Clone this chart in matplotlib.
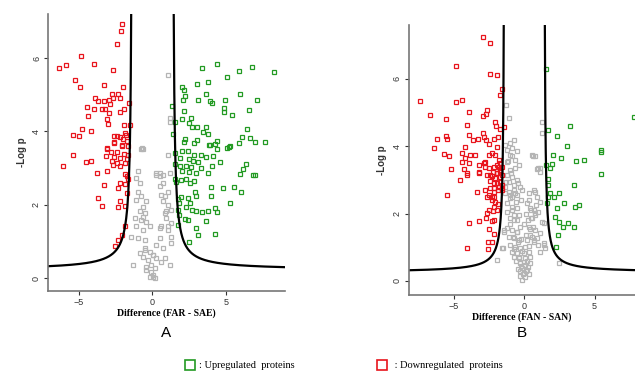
import numpy as np
import matplotlib
matplotlib.use("Agg")
import matplotlib.pyplot as plt
from matplotlib.lines import Line2D

plt.rcParams['font.family'] = ['Liberation Sans', 'DejaVu Sans']

# ---- Panel A: FAR - SAE ----
a_down_x = [-2.04, -2.16, -2.38, -4.88, -6.33, -5.87, -3.95, -2.70, -5.24, -4.90, -3.29, -1.97, -2.77, -2.31,
            -3.92, -3.72, -3.31, -2.93, -2.65, -2.20, -1.61, -4.47, -3.95, -3.45, -3.22, -2.88, -2.97, -4.40,
            -3.11, -2.20, -1.93, -2.99, -1.95, -1.56, -4.81, -4.17, -5.37, -4.97, -2.63, -2.43, -2.24, -1.88,
            -1.77, -2.02, -2.59, -1.75, -2.09, -3.11, -1.68, -2.59, -2.06, -3.11, -2.79, -2.43, -1.95, -1.68,
            -5.37, -3.15, -2.59, -2.20, -1.75, -4.51, -4.20, -2.74, -2.40, -1.90, -6.10, -2.70, -2.20, -3.11,
            -3.79, -1.90, -1.75, -1.68, -2.24, -1.86, -3.27, -2.36, -1.72, -3.67, -2.24, -3.42, -2.31, -1.90,
            -1.86, -2.06, -2.31, -2.52]
a_down_y = [6.93, 6.73, 6.38, 6.05, 5.72, 5.82, 5.85, 5.69, 5.41, 5.22, 5.26, 5.21, 5.03, 5.03,
            4.92, 4.84, 4.83, 4.86, 4.90, 4.92, 4.78, 4.68, 4.60, 4.60, 4.62, 4.74, 4.51, 4.42,
            4.33, 4.53, 4.62, 4.21, 4.19, 4.19, 4.07, 4.02, 3.91, 3.87, 3.89, 3.87, 3.84, 3.96,
            3.90, 3.80, 3.71, 3.74, 3.62, 3.55, 3.60, 3.69, 3.60, 3.53, 3.45, 3.45, 3.38, 3.37,
            3.36, 3.33, 3.31, 3.28, 3.25, 3.18, 3.19, 3.19, 3.14, 3.14, 3.06, 3.09, 3.07, 2.92,
            2.88, 2.84, 2.78, 2.70, 2.59, 2.58, 2.55, 2.46, 2.32, 2.18, 2.09, 1.97, 1.94, 1.96,
            1.41, 1.18, 1.04, 0.88]

a_up_x = [4.40, 3.38, 6.76, 5.85, 8.28, 5.06, 3.76, 3.04, 2.02, 2.16, 3.61, 5.92, 2.24, 2.09, 3.08, 3.88,
          4.06, 4.90, 7.14, 4.85, 4.85, 6.53, 1.31, 2.13, 5.42, 2.59, 1.54, 2.02, 2.45, 2.70, 3.04, 3.61,
          3.42, 3.76, 6.41, 1.38, 6.07, 6.60, 6.94, 7.64, 5.85, 2.18, 2.13, 3.04, 2.81, 4.37, 4.22, 3.83,
          5.29, 5.06, 3.88, 5.19, 4.37, 1.56, 2.02, 2.40, 2.81, 3.27, 3.61, 4.10, 1.84, 2.47, 2.74, 3.08,
          4.61, 6.33, 1.56, 1.84, 2.29, 2.63, 3.31, 4.06, 6.14, 2.02, 2.47, 2.97, 3.76, 5.92, 6.82, 7.00,
          1.56, 1.95, 2.29, 2.52, 2.81, 1.61, 3.95, 4.78, 5.53, 6.03, 2.86, 2.93, 3.99, 1.72, 1.95, 2.40,
          5.29, 1.79, 2.52, 2.29, 2.70, 2.93, 3.38, 3.76, 4.22, 4.37, 1.72, 1.79, 2.18, 2.40, 3.65, 1.72,
          2.93, 3.08, 4.22, 2.47]
a_up_y = [5.84, 5.72, 5.76, 5.64, 5.62, 5.49, 5.34, 5.29, 5.21, 5.12, 5.03, 5.01, 4.97, 4.86, 4.86, 4.83,
          4.77, 4.86, 4.86, 4.65, 4.53, 4.58, 4.69, 4.55, 4.45, 4.37, 4.27, 4.33, 4.24, 4.12, 4.12, 4.12,
          3.98, 3.94, 4.07, 3.94, 3.84, 3.81, 3.71, 3.71, 3.69, 3.80, 3.71, 3.78, 3.69, 3.74, 3.66, 3.62,
          3.60, 3.55, 3.62, 3.58, 3.53, 3.42, 3.46, 3.46, 3.37, 3.37, 3.30, 3.32, 3.28, 3.25, 3.19, 3.16,
          3.16, 3.12, 3.10, 3.05, 3.05, 3.03, 3.01, 3.05, 2.98, 2.91, 2.90, 2.87, 2.87, 2.85, 2.82, 2.82,
          2.70, 2.67, 2.70, 2.59, 2.64, 2.61, 2.48, 2.47, 2.48, 2.34, 2.36, 2.25, 2.23, 2.16, 2.21, 2.18,
          2.06, 2.06, 2.05, 1.94, 1.86, 1.82, 1.79, 1.82, 1.91, 1.79, 1.86, 1.73, 1.61, 1.59, 1.56, 1.45,
          1.38, 1.17, 1.21, 0.99]

a_ns_x = [-0.77, 0.25, 0.48, 0.70, 1.04, 1.16, -1.00, -1.11, -0.88, -1.00, -0.77, -1.11, -0.66, -0.88, -0.54,
          -1.22, -0.77, -0.43, -1.11, -0.66, -0.20, -1.45, -1.00, -0.54, 0.48, 0.59, 0.82, 1.04, 0.70, 1.04,
          1.27, 0.82, 0.93, 1.27, 0.59, 1.04, 1.27, 0.48, 0.25, 0.70, -0.54, -0.20, 0.02, -0.66, -0.32, 0.25,
          0.59, -0.09, -0.43, 0.14, -0.09, 0.02, -0.20, 0.14, -1.34, -0.88, 1.07, 1.16, 1.22, -0.73, -0.66,
          0.70, 0.48, 0.25, -0.43, -0.66, 0.93, 1.04, 0.48, 1.27, -0.54, 0.02, 0.82, 1.16, -0.43, 0.02]
a_ns_y = [3.53, 2.87, 2.78, 2.82, 3.37, 2.87, 2.91, 2.73, 2.59, 2.36, 2.23, 2.14, 1.95, 1.82, 1.77,
          1.64, 1.59, 1.54, 1.41, 1.32, 1.41, 1.13, 1.09, 1.04, 2.50, 2.27, 2.23, 2.36, 2.09, 2.00,
          1.86, 1.77, 1.64, 1.50, 1.41, 1.32, 0.95, 1.09, 0.90, 0.81, 0.81, 0.72, 0.63, 0.58, 0.49, 0.54,
          0.45, 0.36, 0.31, 0.27, 0.17, 0.08, 0.04, -0.01, 0.36, 0.68, 5.53, 4.37, 4.27, 3.55, 3.53,
          2.59, 2.87, 2.82, 2.09, 1.68, 1.82, 1.41, 1.36, 1.13, 0.77, 0.63, 0.54, 0.36, 0.22, 0.04]

# ---- Panel B: FAN - SAN ----
b_down_x = [-2.91, -2.41, -4.89, -2.41, -1.94, -1.58, -1.70, -7.38, -4.89, -4.42, -3.90, -2.65, -2.70, -2.93,
            -6.67, -5.53, -4.06, -2.06, -1.99, -1.75, -1.47, -3.95, -5.53, -5.48, -6.19, -3.31, -2.93, -2.89,
            -2.70, -2.18, -1.87, -6.43, -4.18, -2.53, -1.94, -3.64, -5.72, -5.37, -4.42, -4.18, -3.83, -3.48,
            -4.42, -3.95, -3.24, -2.77, -2.53, -2.29, -2.06, -1.82, -5.20, -4.30, -4.06, -4.06, -3.24, -2.77,
            -2.53, -2.18, -1.94, -1.70, -1.58, -2.22, -1.94, -1.70, -2.65, -2.29, -2.06, -1.75, -1.58, -4.59,
            -2.41, -2.18, -1.94, -1.70, -1.58, -3.35, -2.77, -2.41, -2.18, -1.89, -1.58, -5.48, -2.53, -2.18,
            -2.29, -2.06, -1.89, -2.18, -2.53, -2.22, -1.94, -2.65, -2.70, -2.29, -2.18, -3.19, -3.90, -2.53,
            -2.18, -2.57, -2.29, -4.06, -2.60, -1.82, -1.70, -1.94, -1.82, -2.18, -1.58, -2.41, -2.89, -3.24,
            -2.65, -2.29]
b_down_y = [7.25, 7.06, 6.38, 6.14, 6.11, 5.69, 5.52, 5.35, 5.32, 5.37, 5.02, 5.07, 4.96, 4.90,
            4.93, 4.80, 4.64, 4.73, 4.60, 4.50, 4.56, 4.33, 4.30, 4.20, 4.20, 4.20, 4.40, 4.28,
            4.18, 4.20, 4.26, 3.96, 3.99, 4.06, 3.99, 4.18, 3.76, 3.72, 3.79, 3.64, 3.74, 3.74,
            3.54, 3.51, 3.44, 3.54, 3.74, 3.79, 3.74, 3.59, 3.31, 3.31, 3.21, 3.15, 3.21, 3.39,
            3.34, 3.39, 3.44, 3.49, 3.39, 3.24, 3.21, 3.24, 3.15, 3.12, 3.05, 3.08, 3.15, 3.00,
            2.98, 2.92, 2.90, 2.95, 2.85, 2.65, 2.70, 2.75, 2.65, 2.70, 2.75, 2.55, 2.55, 2.50,
            2.40, 2.35, 2.28, 2.20, 2.11, 2.09, 2.11, 2.01, 1.86, 1.79, 1.81, 1.79, 1.71, 1.53,
            1.39, 1.17, 1.17, 0.99, 0.94, 3.39, 3.29, 3.20, 2.80, 2.75, 2.70, 3.15, 3.49, 3.24,
            2.50, 2.50]

b_up_x = [1.54, 1.68, 3.26, 2.32, 3.03, 7.82, 5.46, 2.03, 2.62, 3.69, 4.28, 5.46, 1.56, 1.80, 1.96, 5.44,
          1.72, 1.68, 3.55, 1.84, 2.08, 2.48, 1.68, 1.61, 2.79, 2.32, 3.57, 3.90, 2.20, 2.50, 3.14, 2.72,
          3.55, 2.43, 2.27]
b_up_y = [6.29, 4.48, 4.61, 4.31, 4.01, 4.88, 3.89, 3.74, 3.64, 3.57, 3.59, 3.84, 3.44, 3.34, 3.47, 3.18,
          3.02, 2.85, 2.85, 2.62, 2.50, 2.62, 2.48, 2.31, 2.32, 2.16, 2.19, 2.25, 1.91, 1.75, 1.73, 1.59,
          1.59, 1.37, 1.02]

b_ns_x = [-1.11, -1.28, -0.76, -0.99, -1.35, -1.23, -0.87, -0.99, -0.64, -1.23, 0.78, 0.54, -1.04, -1.23,
          -0.87, -0.52, -1.11, -0.76, -1.35, -0.28, 1.01, 1.13, 0.30, 0.66, -1.11, -0.52, -0.87, 1.26, 1.26,
          -1.35, -0.99, -0.64, 0.90, -1.23, -0.87, -0.52, -0.76, -0.99, -0.52, 0.43, 0.78, 1.01, 0.54, 1.26,
          0.30, 0.78, 1.13, 0.43, 0.19, 0.66, 1.01, 1.37, 1.49, -1.23, -0.87, -0.52, -1.11, -0.76, -0.40,
          -0.99, -0.64, -0.28, -0.87, -0.52, -0.05, -0.76, -0.40, 0.07, 0.43, -0.28, 0.07, 0.43, -0.16, 0.19,
          -0.05, -0.28, 0.30, 0.07, -0.16, -1.47, 0.90, 0.61, 0.90, 1.13, 0.78, 1.13, 0.66, 0.47, 1.37, 0.66,
          1.37, 1.13, 2.50, -1.51, -1.47, -1.94, -1.58,
          -0.30, -0.10, 0.10, 0.25, -0.45, -0.20, 0.00, 0.20, 0.35, -0.60, -0.35, -0.15, 0.05, 0.30, 0.55,
          -0.70, -0.45, -0.25, 0.15, 0.40, -0.80, -0.55, -0.30, -0.05, 0.25, 0.60, -1.00, -0.70, -0.40, 0.10,
          0.50, 0.85, -1.20, -0.90, -0.60, -0.20, 0.20, 0.75, -1.05, -0.75, -0.45, -0.15, 0.35, -1.30, -0.95,
          -0.65, -0.35, -1.15, -0.85, -0.55]
b_ns_y = [4.83, 5.22, 4.18, 4.09, 4.04, 3.89, 3.94, 3.74, 3.59, 3.54, 3.71, 3.74, 3.29, 3.15,
          3.10, 3.00, 2.95, 2.85, 2.80, 2.80, 3.34, 3.24, 2.60, 2.70, 2.65, 2.55, 2.50, 4.73, 4.40,
          2.60, 2.55, 2.60, 2.50, 2.31, 2.11, 2.16, 1.96, 1.86, 1.81, 2.16, 2.01, 2.06, 1.86, 1.76,
          1.61, 1.51, 1.42, 1.36, 1.22, 1.17, 1.07, 1.12, 0.97, 1.56, 1.51, 1.46, 1.31, 1.27, 1.22,
          1.07, 1.02, 0.97, 0.87, 0.82, 0.82, 0.72, 0.67, 0.67, 0.72, 0.53, 0.47, 0.53, 0.38, 0.33,
          0.23, 0.28, 0.21, 0.11, 0.03, 1.46, 1.27, 3.71, 3.31, 3.34, 2.65, 2.35, 2.11, 1.86, 1.71, 1.22,
          1.07, 0.87, 0.54, 0.97, 1.51, 0.62, 0.97,
          0.15, 0.20, 0.30, 0.40, 0.35, 0.45, 0.55, 0.60, 0.85, 0.60, 0.70, 0.90, 1.00, 1.05, 1.30,
          0.95, 1.15, 1.25, 1.35, 1.55, 1.30, 1.45, 1.60, 1.70, 1.80, 1.60, 1.70, 1.80, 1.95, 2.00,
          2.10, 2.25, 2.05, 2.20, 2.35, 2.40, 2.30, 1.95, 2.45, 2.70, 2.90, 2.70, 2.40, 2.95, 3.20,
          3.35, 3.45, 3.55, 3.70, 3.85]

# threshold curve parameters (s0, c, y0): y = y0 + c / (|x| - s0)
a_curve = (1.36, 0.60, 0.22)
b_curve = (1.40, 0.45, 0.25)

red = '#e8141c'
green = '#229a22'
grey = '#b4b4b4'


def panel(ax, groups, curve, xlim, ylim, xlabel, letter, letter_y):
    for (x, y), col in zip(groups, [grey, red, green]):
        ax.plot(x, y, 's', ls='none', ms=3.5, mfc='none', mec=col, mew=0.9)
    s0, c, y0 = curve
    top = ylim[1]
    xl = np.linspace(xlim[0], -s0 - c / (top - y0), 400)
    xr = np.linspace(s0 + c / (top - y0), xlim[1], 400)
    ax.plot(xl, y0 + c / (np.abs(xl) - s0), color='black', lw=1.6)
    ax.plot(xr, y0 + c / (np.abs(xr) - s0), color='black', lw=1.6)
    ax.set_xlim(xlim)
    ax.set_ylim(ylim)
    ax.set_xticks([-5, 0, 5])
    ax.set_yticks([0, 2, 4, 6])
    for side in ['top', 'right']:
        ax.spines[side].set_visible(False)
    for side in ['left', 'bottom']:
        ax.spines[side].set_color('#777777')
        ax.spines[side].set_linewidth(1.2)
    ax.tick_params(labelsize=6.5, colors='#333333', length=3, width=0.8, pad=2)
    for lab in ax.get_yticklabels():
        lab.set_rotation(90)
        lab.set_va('center')
    ax.set_ylabel('-Log p', fontsize=7, fontweight='bold', color='#333333', labelpad=4)
    ax.set_xlabel(xlabel, fontsize=7, fontweight='bold', family='Liberation Serif', labelpad=1)
    ax.text(0.5, letter_y, letter, transform=ax.transAxes, ha='center', va='center', fontsize=11)


fig = plt.figure(figsize=(6.35, 3.73), dpi=100)
ax1 = fig.add_axes([0.0756, 0.220, 0.373, 0.742])
ax2 = fig.add_axes([0.644, 0.209, 0.356, 0.724])

panel(ax1, [(a_ns_x, a_ns_y), (a_down_x, a_down_y), (a_up_x, a_up_y)], a_curve,
      (-7.1, 9.0), (-0.35, 7.2), 'Difference (FAR - SAE)', 'A', -0.152)
panel(ax2, [(b_ns_x, b_ns_y), (b_down_x, b_down_y), (b_up_x, b_up_y)], b_curve,
      (-8.2, 7.87), (-0.42, 7.6), 'Difference (FAN - SAN)', 'B', -0.14)

# legend at the bottom
fig.legend(handles=[Line2D([], [], marker='s', ls='none', ms=7, mfc='none', mec=green, mew=1.2)],
           labels=[': Upregulated  proteins'], loc='center left', bbox_to_anchor=(0.268, 0.02),
           frameon=False, handletextpad=-0.1, prop={'family': 'Liberation Serif', 'size': 7.5})
fig.legend(handles=[Line2D([], [], marker='s', ls='none', ms=7, mfc='none', mec=red, mew=1.2)],
           labels=[' : Downregulated  proteins'], loc='center left', bbox_to_anchor=(0.571, 0.02),
           frameon=False, handletextpad=-0.1, prop={'family': 'Liberation Serif', 'size': 7.5})

fig.savefig('out.png', dpi=100)
